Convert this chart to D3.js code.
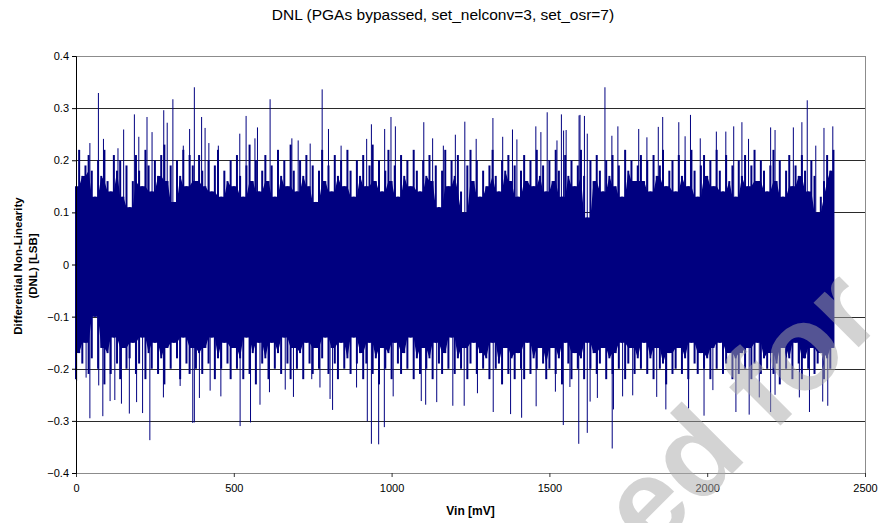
<!DOCTYPE html>
<html>
<head>
<meta charset="utf-8">
<script src="https://cdn.jsdelivr.net/npm/d3@7"></script>
<style>
  body { margin: 0; background: #fff; }
  svg text { font-family: "Liberation Sans", Arial, sans-serif; }
</style>
</head>
<body>
<div id="graph"></div>
<script>
// DNL: upper / lower envelope every 10 mV (0..2400 mV)
var binStep = 10;
var dnlHi = [
  .15,.22,.17,.19,.21,.18,.13,.20,.17,.22,
  .16,.14,.21,.18,.20,.13,.19,.11,.16,.21,
  .18,.15,.22,.19,.14,.20,.17,.21,.23,.16,
  .19,.12,.20,.17,.22,.15,.21,.19,.16,.21,
  .18,.15,.20,.14,.19,.22,.13,.18,.16,.20,
  .15,.21,.17,.13,.19,.23,.16,.20,.14,.18,
  .21,.16,.19,.13,.22,.17,.20,.15,.23,.18,
  .14,.20,.17,.21,.15,.19,.12,.18,.22,.16,
  .19,.14,.21,.17,.20,.15,.22,.18,.13,.20,
  .17,.21,.15,.19,.23,.16,.20,.14,.18,.22,
  .16,.19,.13,.21,.17,.20,.15,.22,.18,.14,
  .20,.17,.21,.16,.19,.11,.18,.22,.15,.20,
  .17,.21,.14,.10,.19,.22,.16,.20,.13,.18,
  .15,.19,.22,.17,.14,.20,.18,.21,.16,.19,
  .13,.18,.21,.16,.20,.15,.22,.17,.19,.14,
  .20,.16,.22,.18,.13,.21,.17,.20,.15,.19,
  .22,.17,.09,.20,.16,.21,.18,.14,.20,.17,
  .21,.15,.19,.13,.22,.18,.20,.16,.19,.21,
  .16,.20,.14,.21,.17,.19,.22,.15,.18,.20,
  .14,.21,.17,.20,.15,.22,.18,.13,.19,.21,
  .17,.20,.15,.22,.18,.14,.21,.16,.19,.13,
  .20,.17,.21,.15,.19,.22,.16,.20,.18,.14,
  .19,.22,.16,.20,.13,.18,.21,.15,.19,.17,
  .21,.18,.14,.20,.17,.10,.13,.16,.21,.18,
  .22
];
var dnlLo = [
  -.22,-.17,-.19,-.15,-.21,-.18,-.10,-.20,-.16,-.23,
  -.17,-.21,-.14,-.19,-.22,-.16,-.20,-.18,-.15,-.21,
  -.19,-.14,-.22,-.17,-.20,-.15,-.21,-.18,-.23,-.16,
  -.20,-.15,-.18,-.22,-.14,-.19,-.21,-.16,-.20,-.17,
  -.21,-.16,-.19,-.14,-.22,-.18,-.20,-.15,-.19,-.22,
  -.16,-.20,-.18,-.22,-.14,-.21,-.17,-.23,-.15,-.19,
  -.18,-.22,-.15,-.20,-.17,-.21,-.14,-.19,-.22,-.16,
  -.20,-.17,-.22,-.15,-.19,-.21,-.16,-.20,-.18,-.14,
  -.21,-.16,-.19,-.22,-.15,-.20,-.18,-.21,-.14,-.19,
  -.17,-.22,-.19,-.15,-.21,-.18,-.23,-.16,-.20,-.17,
  -.22,-.15,-.19,-.21,-.17,-.20,-.14,-.22,-.18,-.21,
  -.16,-.20,-.18,-.22,-.15,-.19,-.21,-.17,-.20,-.14,
  -.21,-.18,-.20,-.16,-.22,-.19,-.15,-.21,-.17,-.20,
  -.18,-.22,-.15,-.20,-.19,-.23,-.16,-.21,-.18,-.22,
  -.17,-.20,-.22,-.15,-.21,-.18,-.20,-.16,-.19,-.22,
  -.20,-.16,-.21,-.18,-.23,-.15,-.19,-.22,-.17,-.20,
  -.18,-.22,-.15,-.20,-.17,-.21,-.19,-.16,-.22,-.18,
  -.21,-.17,-.20,-.15,-.22,-.19,-.16,-.21,-.18,-.20,
  -.15,-.21,-.18,-.22,-.16,-.20,-.19,-.23,-.17,-.21,
  -.20,-.16,-.21,-.18,-.22,-.15,-.19,-.21,-.17,-.20,
  -.18,-.22,-.16,-.20,-.15,-.21,-.19,-.17,-.22,-.18,
  -.21,-.17,-.20,-.16,-.22,-.19,-.15,-.21,-.18,-.20,
  -.17,-.21,-.19,-.23,-.16,-.20,-.18,-.22,-.15,-.19,
  -.22,-.18,-.20,-.16,-.21,-.19,-.17,-.22,-.18,-.20,
  -.16
];

// isolated spikes (Vin in mV, DNL in LSB)
var spikeUpVin = [71,375,307,278,185,225,615,539,398,289,151,360,409,575,519,567,684,704,87,199,241,44,133,340,451,421,
  780,998,1102,1232,1321,1493,1538,1594,936,978,1012,1457,1383,800,742,840,1130,1202,1268,1352,1473,921,1164,1397,1545,1524,
  1676,2317,1597,1611,1859,1947,1910,2110,2084,2300,1845,1783,1717,2029,2201,2273,2370,2398,1553,1620,1809,1930,1978,2131,2059,2215,2344,1698];
var spikeUpVal = [.329,.340,.317,.296,.288,.283,.317,.285,.283,.272,.259,.260,.262,.263,.251,.242,.242,.238,.241,.245,.254,.233,.223,.228,.228,.233,
  .336,.283,.273,.274,.281,.292,.288,.286,.269,.260,.265,.265,.259,.260,.232,.228,.242,.249,.241,.245,.254,.241,.228,.240,.257,.238,
  .340,.315,.287,.285,.283,.287,.273,.273,.265,.273,.264,.260,.265,.255,.263,.263,.262,.265,.258,.251,.244,.246,.242,.241,.255,.258,.228,.247];
var spikeDownVin = [234,44,85,169,211,370,375,520,553,583,123,144,108,192,277,391,459,689,2,32,72,330,425,613,
  936,959,977,923,1544,1593,813,663,1108,1143,1194,1230,1322,1377,1412,1458,773,805,889,1272,1519,1094,1005,747,
  1699,1620,1990,2091,2133,2201,2324,1941,1869,1703,1629,2382,2366,2292,2165,2018,1840,1764,1732,2215,1652,1565];
var spikeDownVal = [-.337,-.295,-.291,-.286,-.285,-.304,-.303,-.310,-.303,-.269,-.260,-.267,-.262,-.264,-.255,-.256,-.253,-.254,-.223,-.217,-.232,-.233,-.242,-.245,
  -.344,-.345,-.312,-.301,-.308,-.344,-.279,-.240,-.269,-.264,-.271,-.271,-.283,-.287,-.294,-.272,-.236,-.258,-.236,-.247,-.244,-.262,-.253,-.220,
  -.353,-.323,-.290,-.283,-.288,-.283,-.283,-.276,-.278,-.278,-.263,-.271,-.263,-.255,-.255,-.241,-.254,-.251,-.253,-.250,-.256,-.235];

var xTicks = [0, 500, 1000, 1500, 2000, 2500];
var yTicks = [-0.4, -0.3, -0.2, -0.1, 0, 0.1, 0.2, 0.3, 0.4];

var W = 878, H = 523;
var margin = {top: 56, right: 13, bottom: 50, left: 76};
var width = W - margin.left - margin.right,
    height = H - margin.top - margin.bottom;

var svg = d3.select('#graph').append('svg')
    .attr('width', W)
    .attr('height', H);

var g = svg.append('g')
    .attr('transform', 'translate(' + margin.left + ',' + margin.top + ')');

var x = d3.scaleLinear().domain([0, 2500]).range([0, width]);
var y = d3.scaleLinear().domain([-0.4, 0.4]).range([height, 0]);

// gridlines
g.selectAll('.grid')
    .data(yTicks.filter(function(d) { return d !== 0 && Math.abs(d) < 0.39; }))
  .enter().append('line')
    .attr('class', 'grid')
    .attr('x1', 0).attr('x2', width)
    .attr('y1', function(d) { return Math.round(y(d)) + 0.5; })
    .attr('y2', function(d) { return Math.round(y(d)) + 0.5; })
    .attr('stroke', '#2a2a2a')
    .attr('stroke-width', 1);

// plot border
g.append('rect')
    .attr('x', 0.5).attr('y', 0.5)
    .attr('width', Math.round(width)).attr('height', Math.round(height))
    .attr('fill', 'none')
    .attr('stroke', '#8c8c8c');

var rows = dnlHi.map(function(v, i) { return {vin: i * binStep, hi: v, lo: dnlLo[i]}; });

// solid core: lowest peak / highest trough around each bin
var core = d3.area()
    .x(function(d) { return x(d.vin); })
    .y0(function(d, i) { return y(d3.max(dnlLo.slice(Math.max(0, i - 1), i + 2))); })
    .y1(function(d, i) { return y(d3.min(dnlHi.slice(Math.max(0, i - 1), i + 2))); });

g.append('path')
    .datum(rows)
    .attr('d', core)
    .attr('fill', '#000080');

// each bin swings from its trough to its peak
g.selectAll('.bin')
    .data(rows)
  .enter().append('line')
    .attr('class', 'bin')
    .attr('x1', function(d) { return x(d.vin); })
    .attr('x2', function(d) { return x(d.vin); })
    .attr('y1', function(d) { return y(d.lo); })
    .attr('y2', function(d) { return y(d.hi); })
    .attr('stroke', '#000080')
    .attr('stroke-width', 2);

var spikes = spikeUpVin.map(function(v, i) { return {vin: v, val: spikeUpVal[i]}; })
  .concat(spikeDownVin.map(function(v, i) { return {vin: v, val: spikeDownVal[i]}; }));

g.selectAll('.spike')
    .data(spikes)
  .enter().append('line')
    .attr('class', 'spike')
    .attr('x1', function(d) { return x(d.vin); })
    .attr('x2', function(d) { return x(d.vin); })
    .attr('y1', y(0))
    .attr('y2', function(d) { return y(d.val); })
    .attr('stroke', '#000080')
    .attr('stroke-width', 1);

// axes
var xAxis = d3.axisBottom(x).tickValues(xTicks).tickSize(4).tickFormat(d3.format('d'));
var yAxis = d3.axisLeft(y).tickValues(yTicks).tickSize(4)
    .tickFormat(function(d) { return d === 0 ? '0' : d3.format('.1f')(d); });

var gx = g.append('g')
    .attr('transform', 'translate(0,' + height + ')')
    .call(xAxis);
gx.select('.domain').attr('stroke', '#8c8c8c');
gx.selectAll('.tick line').attr('stroke', '#333');
gx.selectAll('text').attr('font-size', '11px').attr('fill', '#000').attr('dy', '1.05em');

var gy = g.append('g').call(yAxis);
gy.select('.domain').attr('stroke', '#000');
gy.selectAll('.tick line').attr('stroke', '#000');
gy.selectAll('text').attr('font-size', '11px').attr('fill', '#000').attr('x', -7);

// titles
svg.append('text')
    .attr('x', 443).attr('y', 20)
    .attr('text-anchor', 'middle')
    .attr('font-size', '15.5px')
    .attr('fill', '#000')
    .text('DNL (PGAs bypassed, set_nelconv=3, set_osr=7)');

svg.append('text')
    .attr('x', margin.left + width / 2).attr('y', 515)
    .attr('text-anchor', 'middle')
    .attr('font-size', '12px')
    .attr('font-weight', 'bold')
    .text('Vin [mV]');

var yt = svg.append('text')
    .attr('transform', 'translate(22,266) rotate(-90)')
    .attr('text-anchor', 'middle')
    .attr('font-size', '11.5px')
    .attr('font-weight', 'bold');
yt.append('tspan').attr('x', 0).attr('y', 0).text('Differential Non-Linearity');
yt.append('tspan').attr('x', 0).attr('y', 15).text('(DNL) [LSB]');

// watermark
svg.append('text')
    .attr('transform', 'translate(650,556) rotate(-45)')
    .attr('font-size', '120px')
    .attr('font-weight', 'bold')
    .attr('fill', '#a8a8a8')
    .attr('fill-opacity', 0.5)
    .text('ed for');
</script>
</body>
</html>
